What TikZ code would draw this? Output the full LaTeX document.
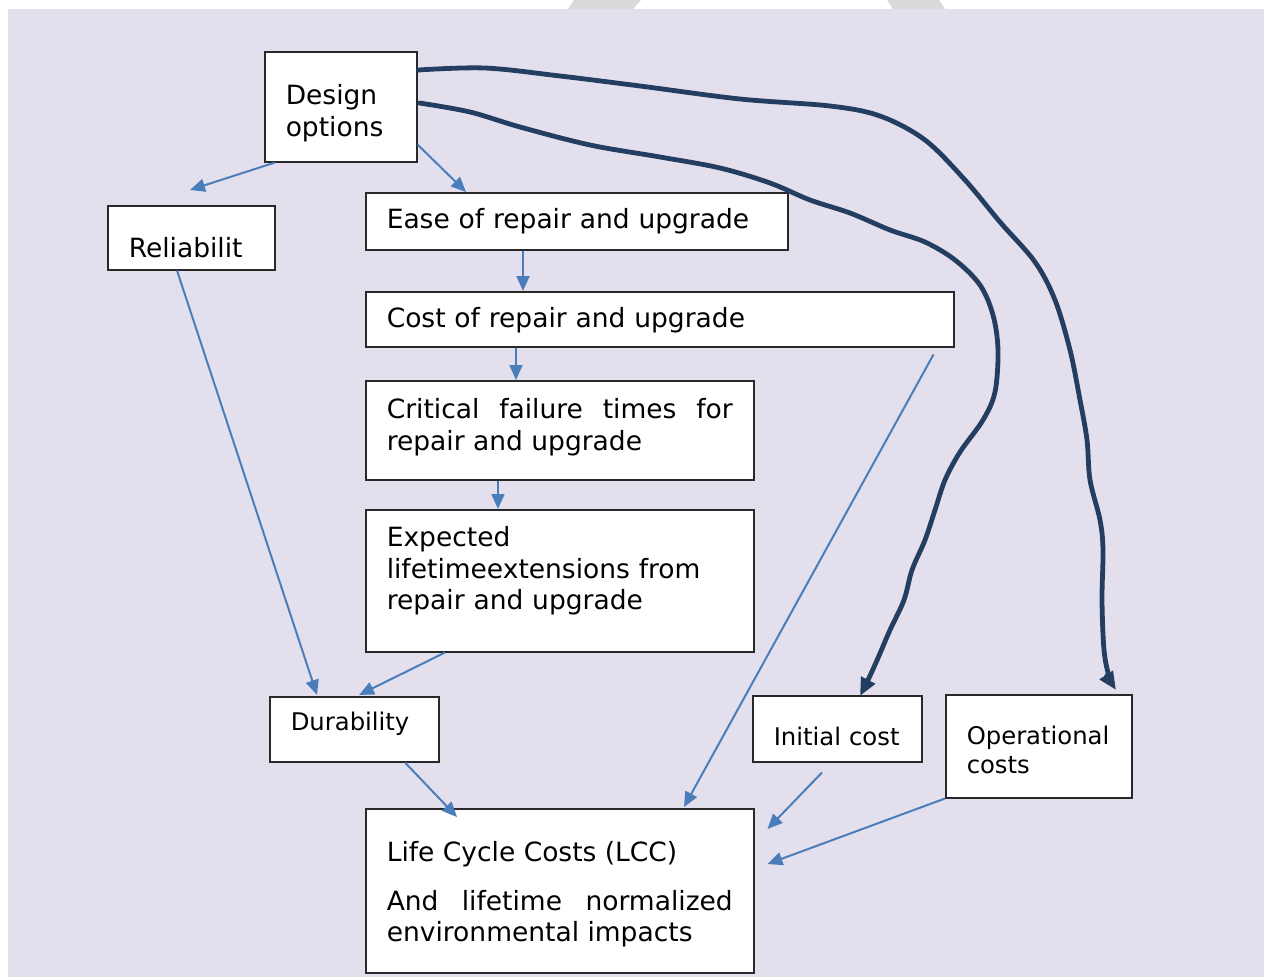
\documentclass[tikz,border=0pt]{standalone}
\usepackage{fontspec}
\setmainfont{DejaVu Sans}
\usetikzlibrary{arrows.meta,calc,positioning}
\definecolor{lavender}{RGB}{228,223,236}
\definecolor{flowblue}{RGB}{74,126,187}
\definecolor{navy}{RGB}{36,62,98}
\definecolor{boxline}{RGB}{40,40,40}
\tolerance=9999
\hyphenpenalty=10000
\tikzset{x=1pt, y=-1pt, % one unit is one pixel, y runs downwards
>={Triangle[length=15pt,width=13pt]}, % head of the thin links
box/.style={draw=boxline, line width=1.5pt, fill=white, anchor=north west, inner xsep=21pt, inner ysep=0pt, align=left, font=\fontsize{26.5pt}{31.5pt}\selectfont}, % every text box
small/.style={font=\fontsize{24.3pt}{29pt}\selectfont}, % the smaller boxes
flow/.style={->, draw=flowblue, line width=2pt}, % thin blue links
bigflow/.style={-{Triangle[length=18pt,width=15pt]}, draw=navy, line width=4.8pt, line cap=round, line join=round}, % thick hand drawn links
}

\begin{document}
\begin{tikzpicture}
\useasboundingbox (0,0) rectangle (1264,977);
\fill[white] (0,0) rectangle (1264,977);
\fill[gray!30] (574,0) -- (641,0) -- (633,9) -- (568,9) -- cycle;
\fill[gray!30] (887,0) -- (939,0) -- (945,9) -- (893,9) -- cycle;
\fill[lavender] (8,9) rectangle (1264,977);

\node[box, text width=110pt, text height=53pt, text depth=57pt] (design) at (264,51) {Design\\options};
\node[box, text width=125pt, text height=52pt, text depth=12pt] (rel) at (107,205) {Reliabilit};
\node[box, text width=380pt, text height=36pt, text depth=21pt] (ease) at (365,192) {Ease of repair and upgrade};
\node[box, text width=546pt, text height=36pt, text depth=19pt] (cost) at (365,291) {Cost of repair and upgrade};
\node[box, align=justify, text width=346pt, text height=38pt, text depth=61pt] (crit) at (365,380) {Critical failure times for repair and upgrade};
\node[box, text width=346pt, text height=37pt, text depth=105pt] (expext) at (365,509) {Expected\\lifetimeextensions from\\repair and upgrade};
\node[box, small, text width=127pt, text height=34pt, text depth=31pt] (dur) at (269,696) {Durability};
\node[box, small, text width=127pt, text height=50pt, text depth=16pt] (init) at (752,695) {Initial cost};
\node[box, small, text width=144pt, text height=50pt, text depth=53pt] (oper) at (945,694) {Operational\\costs};
\node[box, align=justify, text width=346pt, text height=53pt, text depth=111pt] (lcc) at (365,808) {Life Cycle Costs (LCC)\par\vspace{17pt}And lifetime normalized environmental impacts};

\draw[flow] ($(design.south west)+(11,0)$) -- ($(rel.north west)+(83,-15)$);
\draw[flow] ($(design.south east)+(0,-18)$) -- ($(ease.north west)+(101,0)$);
\draw[flow] ($(ease.south west)+(158,0)$) -- ($(cost.north west)+(158,0)$);
\draw[flow] ($(cost.south west)+(151,0)$) -- ($(crit.north west)+(151,0)$);
\draw[flow] ($(crit.south west)+(133,0)$) -- ($(expext.north west)+(133,0)$);
\draw[flow] ($(expext.south west)+(80,0)$) -- ($(dur.north west)+(90,-1)$);
\draw[flow] ($(rel.south west)+(70,0)$) -- ($(dur.north west)+(48,-1)$);
\draw[flow] ($(cost.south east)+(-21,7)$) -- ($(lcc.north west)+(319,-1)$);
\draw[flow] ($(dur.south west)+(136,0)$) -- ($(lcc.north west)+(92,9)$);
\draw[flow] ($(init.south west)+(70,10)$) -- ($(lcc.north east)+(13,21)$);
\draw[flow] (oper.south west) -- ($(lcc.north east)+(13,56)$);

% thick links from the design options
\coordinate (opsrc) at ($(design.north east)+(1,19)$);
\coordinate (opdst) at ($(oper.north west)+(171,-4)$);
\coordinate (insrc) at ($(design.north east)+(2,52)$);
\coordinate (indst) at ($(init.north west)+(108,1)$);
\draw[bigflow] plot[smooth, tension=0.55] coordinates {(opsrc) (485,68) (560,76) (640,86) (740,99) (830,106) (880,116) (925,140) (965,180) (1000,222) (1035,262) (1055,300) (1070,350) (1080,400) (1087,440) (1090,480) (1100,520) (1103,550) (1102,600) (1104,650) (1109,676) (opdst)};
\draw[bigflow] plot[smooth, tension=0.55] coordinates {(insrc) (470,112) (520,127) (590,145) (660,157) (720,168) (770,183) (810,200) (850,213) (890,230) (925,242) (955,260) (980,285) (993,315) (998,350) (995,392) (983,420) (960,452) (945,480) (935,510) (925,540) (912,570) (904,600) (890,630) (878,658) (868,680) (indst)};
\end{tikzpicture}
\end{document}
